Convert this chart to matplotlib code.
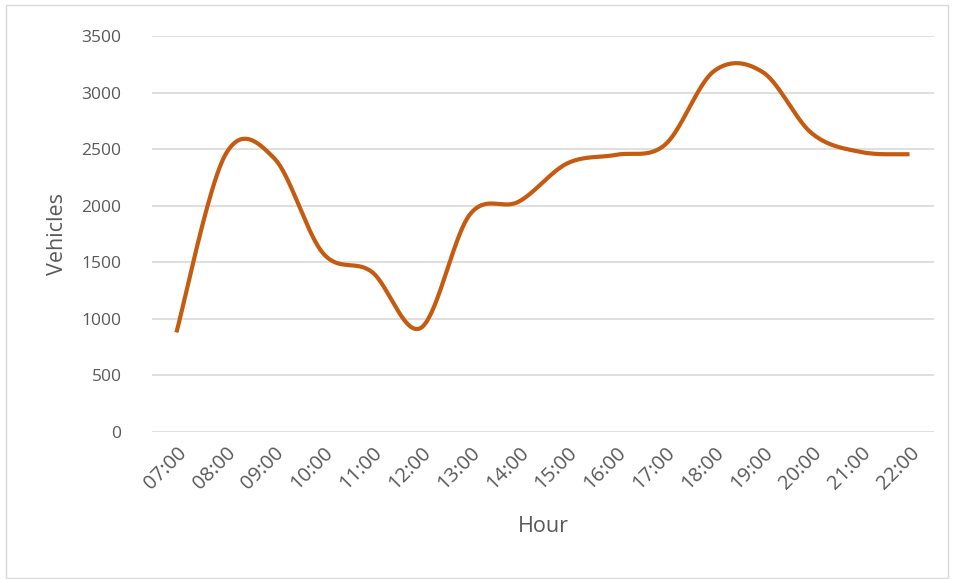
import numpy as np
import matplotlib.pyplot as plt
from matplotlib.patches import Rectangle

hours = ['07:00', '08:00', '09:00', '10:00', '11:00', '12:00', '13:00', '14:00',
         '15:00', '16:00', '17:00', '18:00', '19:00', '20:00', '21:00', '22:00']
vehicles = [880, 2450, 2420, 1580, 1415, 920, 1920, 2035,
            2375, 2450, 2540, 3190, 3180, 2640, 2475, 2455]

plt.rcParams['font.family'] = ['Open Sans', 'DejaVu Sans']
grey = '#595959'


# excel style smoothing (catmull-rom bezier through every point)
def smooth(xs, ys, n=40):
    xs = np.asarray(xs, float)
    ys = np.asarray(ys, float)
    out_x, out_y = [], []
    for i in range(len(xs) - 1):
        x0, y0 = (xs[i - 1], ys[i - 1]) if i > 0 else (xs[i], ys[i])
        x3, y3 = (xs[i + 2], ys[i + 2]) if i + 2 < len(xs) else (xs[i + 1], ys[i + 1])
        x1, y1, x2, y2 = xs[i], ys[i], xs[i + 1], ys[i + 1]
        c1x, c1y = x1 + (x2 - x0) / 6, y1 + (y2 - y0) / 6
        c2x, c2y = x2 - (x3 - x1) / 6, y2 - (y3 - y1) / 6
        t = np.linspace(0, 1, n)
        a, b, c, d = (1 - t) ** 3, 3 * (1 - t) ** 2 * t, 3 * (1 - t) * t ** 2, t ** 3
        out_x.extend(a * x1 + b * c1x + c * c2x + d * x2)
        out_y.extend(a * y1 + b * c1y + c * c2y + d * y2)
    return out_x, out_y


fig = plt.figure(figsize=(9.54, 5.79), dpi=100)
ax = fig.add_axes([0.1593, 0.2539, 0.8197, 0.6839])

x = np.arange(len(hours))
sx, sy = smooth(x, vehicles)
ax.plot(sx, sy, color='#C55A11', lw=3, solid_capstyle='butt', zorder=3)

ax.set_xlim(-0.5, len(hours) - 0.5)
ax.set_ylim(0, 3500)
ax.set_yticks(range(0, 3501, 500))
ax.set_xticks(x)
ax.set_xticklabels(hours, rotation=45, ha='right', rotation_mode='anchor')
ax.grid(axis='y', color='#d9d9d9', lw=1.2)
ax.set_axisbelow(True)
for s in ax.spines.values():
    s.set_visible(False)
ax.tick_params(length=0, colors=grey)
ax.tick_params(axis='y', pad=22, labelsize=12.5)
ax.tick_params(axis='x', pad=8, labelsize=14.5)

ax.set_ylabel('Vehicles', color=grey, fontsize=15.5, labelpad=10)
ax.set_xlabel('Hour', color=grey, fontsize=15.5, labelpad=16)

fig.patches.append(Rectangle((6 / 954, 1 / 579), 942 / 954, 573 / 579, transform=fig.transFigure,
                             fill=False, edgecolor='#d9d9d9', lw=1))

plt.savefig('out.png', dpi=100)
